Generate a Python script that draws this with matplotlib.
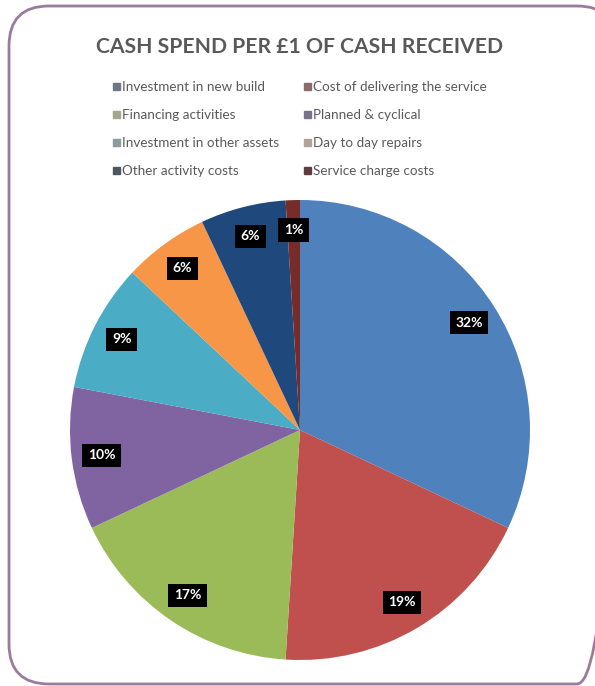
import matplotlib.pyplot as plt
from matplotlib.patches import FancyBboxPatch, Rectangle

categories = ["Investment in new build", "Cost of delivering the service",
              "Financing activities", "Planned & cyclical",
              "Investment in other assets", "Day to day repairs",
              "Other activity costs", "Service charge costs"]
shares = [32, 19, 17, 10, 9, 6, 6, 1]
colors = ["#4f81bd", "#c0504d", "#9bbb59", "#8064a2",
          "#4bacc6", "#f79646", "#1f497d", "#772c2a"]
legend_marks = ["#6d7886", "#8a6a6c", "#a3a58e", "#77718c",
                "#8a9a9e", "#b0a294", "#4d5762", "#5e3c42"]

W, H = 595, 686
fig = plt.figure(figsize=(W / 100, H / 100), dpi=100)
plt.rcParams['font.family'] = ['Lato', 'DejaVu Sans']

# background axes in pixel units for the frame
bg = fig.add_axes([0, 0, 1, 1])
bg.set_xlim(0, W)
bg.set_ylim(H, 0)
bg.axis("off")
bg.add_patch(FancyBboxPatch((9, 6), 608, 678,
                            boxstyle="round,pad=0,rounding_size=40",
                            fill=False, edgecolor="#9b7b9d", linewidth=2))

fig.text(300 / W, 1 - 47 / H, "CASH SPEND PER £1 OF CASH RECEIVED",
         ha="center", va="center", fontsize=15.2, fontweight="bold", color="#595959")

# legend, two columns
for i, (name, mc) in enumerate(zip(categories, legend_marks)):
    col, row = i % 2, i // 2
    x = 117 if col == 0 else 308
    y = 87 + row * 28
    bg.add_patch(Rectangle((x - 4, y - 4), 7, 7, color=mc))
    bg.text(x + 5, y, name, ha="left", va="center",
            fontsize=9.7, color="#595959")

ax = fig.add_axes([70 / W, (H - 430 - 230) / H, 460 / W, 460 / H])
wedges, texts, autotexts = ax.pie(
    shares, colors=colors, startangle=90, counterclock=False,
    autopct=lambda p: f"{p:.0f}%", pctdistance=0.87,
    wedgeprops=dict(linewidth=0))
for t in autotexts:
    t.set_color("white")
    t.set_fontweight("bold")
    t.set_fontsize(10)
    t.set_bbox(dict(facecolor="black", edgecolor="none", pad=4))
ax.set_aspect("auto")
ax.set_xlim(-1, 1)
ax.set_ylim(-1, 1)

fig.savefig("out.png", dpi=100)
